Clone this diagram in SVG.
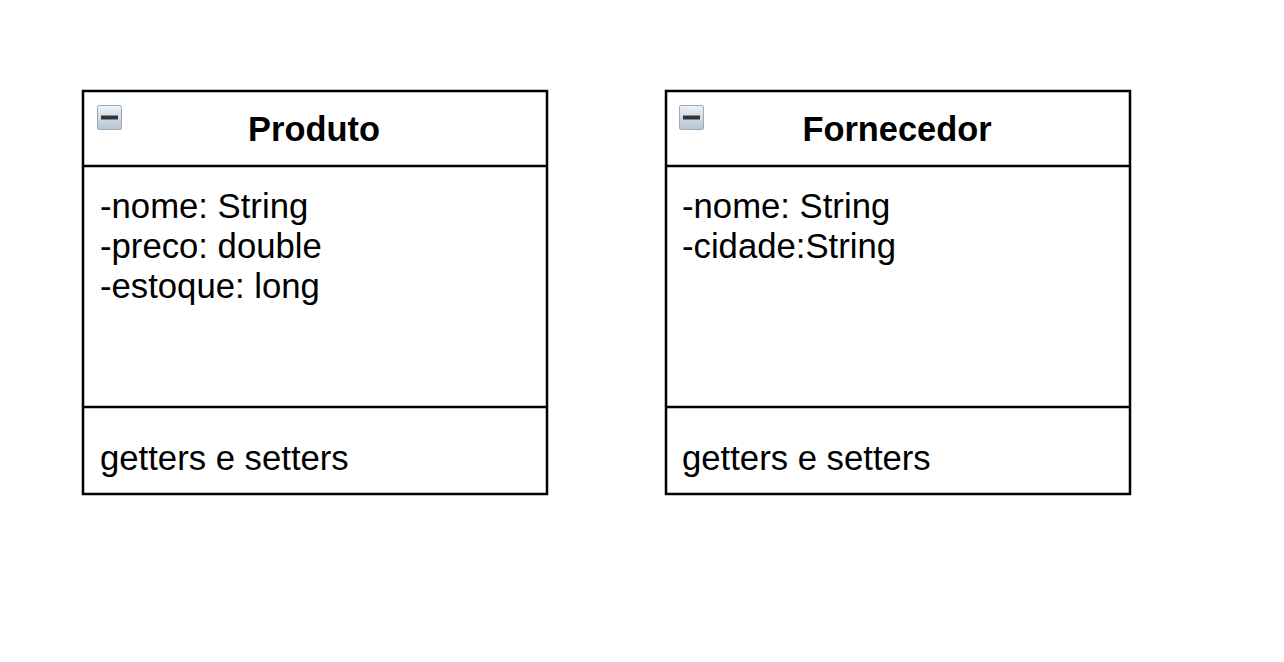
<svg xmlns="http://www.w3.org/2000/svg" width="1284" height="662" viewBox="0 0 1284 662">
<style>
.box{fill:#fff;stroke:#000;stroke-width:2.5}
.ln{stroke:#000;stroke-width:2.5}
.t{font-family:"Liberation Sans",Arial,sans-serif;font-size:34.7px;fill:#000}
.h{font-family:"Liberation Sans",Arial,sans-serif;font-size:34.4px;font-weight:bold;fill:#000;text-anchor:middle}
</style>
<defs>
<linearGradient id="ig" x1="0" y1="0" x2="0" y2="1">
<stop offset="0" stop-color="#eef3f7"/>
<stop offset="1" stop-color="#b3c4d3"/>
</linearGradient>
<g id="icon">
<rect x="0.5" y="0.5" width="24" height="24" rx="1.5" fill="url(#ig)" stroke="#9aaabb" stroke-width="1"/>
<rect x="4" y="10.5" width="17" height="4" fill="#333"/>
</g>
</defs>
<rect width="1284" height="662" fill="#fff"/>
<g id="produto">
<rect class="box" x="83" y="91" width="464" height="403"/>
<line class="ln" x1="83" y1="166" x2="547" y2="166"/>
<line class="ln" x1="83" y1="407" x2="547" y2="407"/>
<use href="#icon" x="97" y="105"/>
<text class="h" x="314" y="141">Produto</text>
<text class="t" x="100" y="218">-nome: String</text>
<text class="t" x="100" y="258">-preco: double</text>
<text class="t" x="100" y="298">-estoque: long</text>
<text class="t" x="100" y="470">getters e setters</text>
</g>
<g id="fornecedor">
<rect class="box" x="666" y="91" width="464" height="403"/>
<line class="ln" x1="666" y1="166" x2="1130" y2="166"/>
<line class="ln" x1="666" y1="407" x2="1130" y2="407"/>
<use href="#icon" x="679" y="105"/>
<text class="h" x="897" y="141">Fornecedor</text>
<text class="t" x="682" y="218">-nome: String</text>
<text class="t" x="682" y="258">-cidade:String</text>
<text class="t" x="682" y="470">getters e setters</text>
</g>
<g id="connectors"/>
</svg>
